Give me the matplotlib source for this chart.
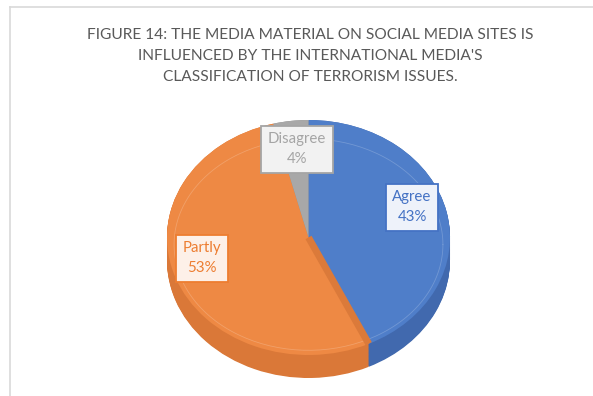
import numpy as np
import matplotlib
matplotlib.use('Agg')
from matplotlib import pyplot as plt
from matplotlib.lines import Line2D

matplotlib.rcParams['font.family'] = ['Lato', 'DejaVu Sans']

# data
labels = ['Agree', 'Partly', 'Disagree']
shares = [43, 53, 4]
top_colors = ['#4F7EC9', '#EE8944', '#A8A8A8']
text_colors = ['#4472C4', '#ED7D31', '#A5A5A5']
side_colors = ['#4169AE', '#DA7838', '#8F8F8F']
box_faces = ['#EEF2FA', '#FDF0E8', '#F2F2F2']
title = ("FIGURE 14: THE MEDIA MATERIAL ON SOCIAL MEDIA SITES IS\n"
         "INFLUENCED BY THE INTERNATIONAL MEDIA'S\n"
         "CLASSIFICATION OF TERRORISM ISSUES.")

W, H = 593, 396
fig = plt.figure(figsize=(W / 100, H / 100), dpi=100)

# chart frame (light gray border, left + top)
fig.add_artist(Line2D([10 / W, 10 / W], [0, 1 - 7 / H], color='#D9D9D9', lw=1.2))
fig.add_artist(Line2D([10 / W, 1], [1 - 7 / H, 1 - 7 / H], color='#D9D9D9', lw=1.2))

fig.text(310 / W, 1 - 56 / H, title, ha='center', va='center',
         fontsize=11.2, color='#595959', linespacing=1.6)

# pie area in pixels: top face x 167..450, y 120..355, side depth ~23px
px0, px1, py0, py1 = 167, 450, 120, 378
ax = fig.add_axes([px0 / W, 1 - py1 / H, (px1 - px0) / W, (py1 - py0) / H])
ry_px = (355 - 120) / 2
depth = 23 / ry_px

# side wall: stack of darker pies
for k in np.linspace(depth, 0.0, 30):
    ax.pie(shares, colors=side_colors, startangle=90, counterclock=False,
           center=(0, -k), radius=1, wedgeprops=dict(linewidth=0))
wedges, _ = ax.pie(shares, colors=top_colors, startangle=90, counterclock=False,
                   radius=1, wedgeprops=dict(linewidth=0))

# darker cut face along Agree/Partly boundary
ang = np.deg2rad(90 - 360 * shares[0] / 100)
ax.plot([0, np.cos(ang)], [0, np.sin(ang)], color='#DB7A3A', lw=5,
        solid_capstyle='butt', zorder=5)

# faint inner bevel ring
t = np.linspace(0, 2 * np.pi, 200)
ax.plot(0.95 * np.cos(t), 0.9 * np.sin(t) - 0.06, color='white', lw=0.6, alpha=0.2)

ax.set_aspect('auto')
ax.set_xlim(-1, 1)
ax.set_ylim(-1 - depth, 1)
ax.axis('off')

# data labels
label_pos = [(412, 207), (202, 258), (297, 149)]
for name, val, col, face, (lx, ly) in zip(labels, shares, text_colors, box_faces, label_pos):
    fig.text(lx / W, 1 - ly / H, f'{name}\n{val}%', ha='center', va='center',
             fontsize=10.8, color=col, linespacing=1.5,
             bbox=dict(boxstyle='square,pad=0.45', facecolor=face,
                       edgecolor=col, linewidth=1.3))

fig.savefig('out.png', dpi=100)
